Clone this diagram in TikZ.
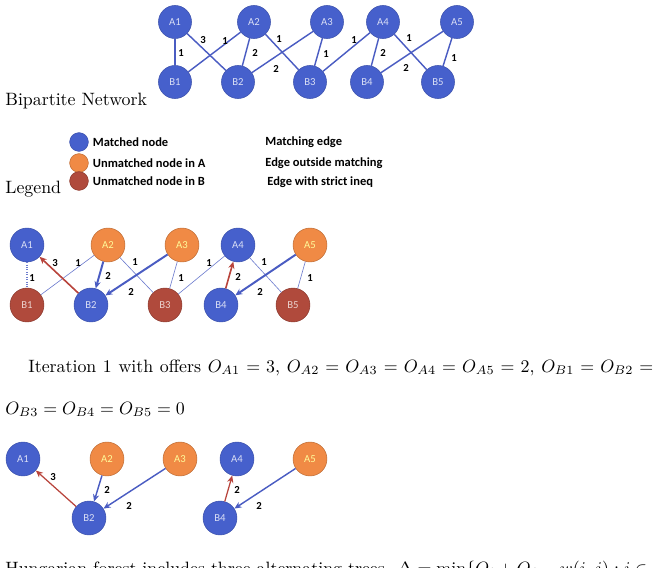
\documentclass[tikz,border=0pt]{standalone}
\usepackage{fontspec}
\setsansfont{Carlito}
\usetikzlibrary{arrows.meta,positioning}
\definecolor{matched}{HTML}{4660CC}
\definecolor{freeA}{HTML}{F08A45}
\definecolor{freeB}{HTML}{B04A3C}
\definecolor{link}{HTML}{4A5CC2}
\definecolor{strict}{HTML}{B8443C}

\begin{document}
\begin{tikzpicture}[x=0.56pt,y=-0.56pt,
  vtx/.style={circle,inner sep=0,minimum size=19pt,line width=0.3pt,
    font=\sffamily\fontsize{6}{7}\selectfont},
  matchedv/.style={vtx,fill=matched,draw=matched!85!black,text=white!80!matched},
  freeAv/.style={vtx,fill=freeA,draw=freeA!80!black,text=yellow!40!white},
  freeBv/.style={vtx,fill=freeB,draw=freeB!80!black,text=white!75!freeB},
  wt/.style={inner sep=0,font=\sffamily\bfseries\fontsize{6}{7}\selectfont},
  legtxt/.style={inner sep=0,anchor=west,font=\sffamily\bfseries\fontsize{7}{8}\selectfont},
  txt/.style={inner sep=0,anchor=base west},
  plain/.style={link,line width=0.8pt},
  slack/.style={link!80!white,line width=0.35pt},
  tight/.style={link,line width=1.1pt,-{Stealth[length=4pt,width=3.5pt]}},
  matchedge/.style={strict,line width=0.9pt,-{Stealth[length=4pt,width=3.5pt]}}]
  \useasboundingbox (0,0) rectangle (654,568);
  \clip (0,0) rectangle (654,568);

  % Bipartite network
  \foreach \n/\x in {1/175,2/254,3/327,4/383,5/457}
    \node[matchedv,minimum size=18.5pt] (a\n) at (\x,22) {A\n};
  \foreach \n/\x in {1/175,2/238,3/310,4/367,5/438}
    \node[matchedv,minimum size=18.5pt] (b\n) at (\x,82) {B\n};
  \foreach \u/\v in {1/1,1/2,2/1,2/2,2/3,3/2,3/3,4/3,4/4,4/5,5/4,5/5}
    \draw[plain] (a\u) -- (b\v);
  \foreach \i/\x/\y/\w in {1/181/53/1,2/203/40/3,3/225/41/1,4/255/53/2,5/279/39/1,6/276/69/2,
      7/326/54/1,8/354/40/1,9/383/53/2,10/409/38/1,11/406/68/2,12/454/58/1}
    \node[wt] (w\i) at (\x,\y) {\w};
  \node[txt] (cap1) at (5,105) {Bipartite Network};

  % Legend
  \node[matchedv,minimum size=10.5pt] (lm) at (79,142) {};
  \node[freeAv,minimum size=10.5pt] (la) at (79,163) {};
  \node[freeBv,minimum size=10.5pt] (lb) at (79,181) {};
  \node[legtxt,right=2.2pt of lm] (lmt) {Matched node};
  \node[legtxt,right=2.2pt of la] (lat) {Unmatched node in A};
  \node[legtxt,right=2.2pt of lb] (lbt) {Unmatched node in B};
  \node[legtxt] (le1) at (265,142) {Matching edge};
  \node[legtxt] (le2) at (265,163) {Edge outside matching};
  \node[legtxt] (le3) at (267,182) {Edge with strict ineq};
  \node[txt] (cap2) at (5,193) {Legend};

  % Iteration 1
  \foreach \n/\x/\s in {1/27/matchedv,2/108/freeAv,3/182/freeAv,4/238/matchedv,5/310/freeAv}
    \node[\s] (ia\n) at (\x,245) {A\n};
  \foreach \n/\x/\s in {1/27/freeBv,2/91/matchedv,3/165/freeBv,4/221/matchedv,5/293/freeBv}
    \node[\s] (ib\n) at (\x,305) {B\n};
  \draw[slack,densely dotted,line width=0.6pt] (ia1) -- (ib1);
  \foreach \u/\v in {2/1,2/3,3/3,4/3,4/5,5/5}
    \draw[slack] (ia\u) -- (ib\v);
  \foreach \u/\v in {2/2,3/2,5/4}
    \draw[tight] (ia\u) -- (ib\v);
  \draw[matchedge] (ib2) -- (ia1);
  \draw[matchedge] (ib4) -- (ia4);
  \foreach \i/\x/\y/\w in {1/32/278/1,2/55/263/3,3/78/263/1,4/108/276/2,5/135/262/1,6/131/292/2,
      7/181/278/1,8/209/263/1,9/238/277/2,10/264/262/1,11/260/292/2,12/310/278/1}
    \node[wt] (iw\i) at (\x,\y) {\w};
  \node[txt] (it1) at (28,372) {\makebox[350pt][s]{Iteration 1 with offers $O_{A1}=3$, $O_{A2}=O_{A3}=O_{A4}=O_{A5}=2$, $O_{B1}=O_{B2}=$}};
  \node[txt] (it2) at (5,414) {$O_{B3}=O_{B4}=O_{B5}=0$};

  % Hungarian forest
  \foreach \n/\x/\s in {1/23/matchedv,2/107/freeAv,3/180/freeAv,4/237/matchedv,5/310/freeAv}
    \node[\s] (fa\n) at (\x,459) {A\n};
  \node[matchedv] (fb2) at (89,518) {B2};
  \node[matchedv] (fb4) at (220,518) {B4};
  \draw[matchedge,line width=0.7pt] (fb2) -- (fa1);
  \draw[matchedge,line width=0.7pt] (fb4) -- (fa4);
  \draw[tight,line width=0.8pt] (fa2) -- (fb2);
  \draw[tight,line width=0.8pt] (fa3) -- (fb2);
  \draw[tight,line width=0.8pt] (fa5) -- (fb4);
  \foreach \i/\x/\y in {1/53/477,2/107/490,3/129/506,4/237/490,5/259/506}
    \node[wt] (fw\i) at (\x,\y) {\ifnum\i=1 3\else 2\fi};
  \node[txt] (cap4) at (5,574) {Hungarian forest includes three alternating trees. $\Delta=\min\{O_i+O_j-w(i,j):i\in$};
\end{tikzpicture}
\end{document}
